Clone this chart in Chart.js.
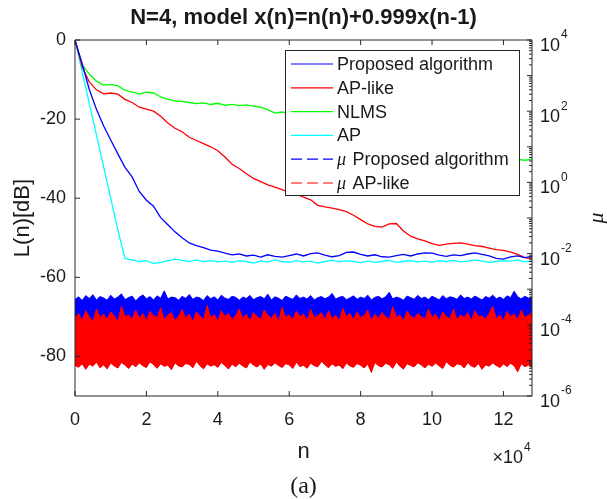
<!DOCTYPE html>
<html>
<head>
<meta charset="utf-8">
<script src="https://cdn.jsdelivr.net/npm/chart.js@4.4.0/dist/chart.umd.min.js"></script>
<style>
html, body { margin: 0; padding: 0; background: #fff; }
canvas { display: block; }
</style>
</head>
<body>
<canvas id="learningCurves" width="607" height="499"></canvas>
<script>
// sample index n, in units of 1e4
var n = [0,0.2,0.4,0.6,0.8,1,1.2,1.4,1.6,1.8,
         2,2.2,2.4,2.6,2.8,3,3.2,3.4,3.6,3.8,
         4,4.2,4.4,4.6,4.8,5,5.2,5.4,5.6,5.8,
         6,6.2,6.4,6.6,6.8,7,7.2,7.4,7.6,7.8,
         8,8.2,8.4,8.6,8.8,9,9.2,9.4,9.6,9.8,
         10,10.2,10.4,10.6,10.8,11,11.2,11.4,11.6,11.8,
         12,12.2,12.4,12.6,12.8];

// L(n) in dB
var proposed = [0,-6,-12.5,-17.5,-21.7,-25.3,-28.8,-32.2,-34.6,-38.3,
                -40.5,-42,-44.9,-46.7,-48.5,-50,-51.3,-52,-52.5,-53.1,
                -53.4,-53.9,-54.3,-54.1,-54.6,-54.4,-54.9,-54.3,-54.7,-54.9,
                -54.5,-54.1,-54.6,-54,-53.8,-54.4,-54.8,-54.5,-53.7,-53.6,
                -54.2,-54.6,-54.3,-54.8,-54.9,-54.5,-54.2,-54.6,-54.1,-53.8,
                -53.9,-54.4,-54.7,-54.3,-54.5,-54.1,-53.8,-54.2,-54.6,-55.2,
                -55.4,-54.8,-54.6,-55,-54.7];
var apLike = [0,-6.8,-10.6,-12.6,-13.6,-13.4,-13.7,-15,-15.8,-17,
              -17.5,-18,-19.3,-21,-22.3,-23.2,-24.6,-25.4,-26.2,-27,
              -28,-29.6,-31.4,-32.5,-33.8,-35,-35.8,-36.6,-37.2,-37.8,
              -38.5,-39,-39.7,-40.4,-41.8,-42.2,-42.5,-42.9,-43.4,-44.3,
              -45.4,-46.5,-47.1,-47.3,-46.5,-46.4,-48.3,-49.6,-50.3,-50.8,
              -51.5,-51.9,-51.6,-51.4,-51.3,-51.6,-52,-52.2,-52.6,-53,
              -53.2,-53.6,-54.2,-55,-55.3];
var nlms = [0,-6.2,-8.6,-10.4,-11.4,-11.2,-11.6,-12.7,-13.2,-13.6,
            -13.2,-13.4,-14.4,-15,-15.4,-15.5,-15.8,-16.1,-15.9,-16.3,
            -16,-16.5,-16.3,-16.6,-16.4,-16.7,-17,-17.6,-18.5,-18.2,
            -18.6,-19,-19.3,-19.8,-20.2,-20.5,-21,-21.4,-21.8,-22.1,
            -22.6,-23,-23.3,-23.8,-24.2,-24.5,-25,-25.3,-25.7,-26,
            -26.4,-26.7,-27,-27.4,-27.6,-28,-28.3,-28.6,-28.9,-29.3,
            -29.6,-29.8,-30.2,-30.4,-30.2];
var ap = [0,-8,-16,-24,-32,-40,-48,-55.2,-55.6,-56,
          -55.8,-56.5,-56.2,-55.8,-55.4,-55.7,-56,-55.6,-56,-55.8,
          -56.1,-55.9,-56.2,-55.8,-56,-56.4,-55.9,-56.1,-55.6,-56,
          -56.2,-55.8,-56.1,-55.9,-56.4,-56,-55.7,-56.1,-55.8,-56,
          -56.3,-55.9,-56.2,-56,-55.7,-56.2,-56,-55.8,-56.1,-55.9,
          -56.2,-55.8,-56,-55.7,-56.1,-55.9,-55.6,-55.9,-56.2,-56,
          -55.8,-55.9,-55.6,-56.1,-55.8];

// step size mu, sampled every 0.1e4
var muN = [0,0.1,0.2,0.3,0.4,0.5,0.6,0.7,0.8,0.9,
           1,1.1,1.2,1.3,1.4,1.5,1.6,1.7,1.8,1.9,
           2,2.1,2.2,2.3,2.4,2.5,2.6,2.7,2.8,2.9,
           3,3.1,3.2,3.3,3.4,3.5,3.6,3.7,3.8,3.9,
           4,4.1,4.2,4.3,4.4,4.5,4.6,4.7,4.8,4.9,
           5,5.1,5.2,5.3,5.4,5.5,5.6,5.7,5.8,5.9,
           6,6.1,6.2,6.3,6.4,6.5,6.6,6.7,6.8,6.9,
           7,7.1,7.2,7.3,7.4,7.5,7.6,7.7,7.8,7.9,
           8,8.1,8.2,8.3,8.4,8.5,8.6,8.7,8.8,8.9,
           9,9.1,9.2,9.3,9.4,9.5,9.6,9.7,9.8,9.9,
           10,10.1,10.2,10.3,10.4,10.5,10.6,10.7,10.8,10.9,
           11,11.1,11.2,11.3,11.4,11.5,11.6,11.7,11.8,11.9,
           12,12.1,12.2,12.3,12.4,12.5,12.6,12.7,12.8];
// upper edge of mu for the proposed algorithm (x1e-4)
var muPropTop = [5.2,6.1,4.8,6.6,5.5,7.0,5.0,6.2,5.7,4.9,6.8,5.3,6.0,7.4,5.1,5.8,6.4,4.7,5.9,6.9,
                 5.4,6.2,5.0,6.5,5.6,9.0,5.3,6.0,5.8,4.9,6.3,5.5,7.1,5.2,6.0,5.7,4.8,6.6,5.4,6.1,
                 5.0,6.8,5.6,5.2,6.3,5.9,4.9,6.0,5.5,6.7,5.1,5.8,6.2,5.4,7.2,5.0,6.1,5.6,4.8,6.4,
                 5.7,5.2,6.9,5.5,6.0,5.3,6.6,5.0,5.8,6.2,5.4,6.0,7.6,5.3,5.9,6.3,5.1,5.7,6.5,5.2,
                 6.0,5.5,6.8,5.0,5.9,6.3,5.4,6.1,8.2,5.3,6.0,5.6,4.9,6.4,5.8,5.2,6.7,5.5,6.0,5.1,
                 6.3,5.7,5.0,6.6,5.4,6.1,5.8,5.2,6.9,5.5,6.0,5.3,6.4,5.7,5.0,6.2,5.6,6.8,5.4,6.0,
                 5.2,6.5,5.8,8.8,6.1,5.4,6.3,5.6,6.0];
// upper edge of mu for AP-like (x1e-4)
var muApTop = [1.5,2.1,1.3,2.5,1.7,1.2,2.8,1.6,2.0,1.4,2.3,1.8,1.2,3.3,1.7,1.9,1.4,2.6,1.5,2.1,
               1.3,2.4,1.8,1.6,3.0,1.4,1.9,2.2,1.3,1.7,2.7,1.5,2.0,1.2,2.3,1.8,1.4,3.5,1.6,1.9,
               1.3,2.5,1.7,2.1,1.4,1.8,2.8,1.5,2.0,1.3,2.2,1.7,1.4,2.6,1.9,1.5,2.1,1.2,3.1,1.6,
               1.9,1.4,2.4,1.7,2.0,1.3,2.7,1.6,1.8,2.2,1.4,2.5,1.5,1.9,1.3,2.9,1.7,2.1,1.4,2.3,
               1.6,1.8,2.6,1.3,2.0,1.5,2.2,1.7,1.4,3.2,1.6,1.9,1.3,2.4,1.8,1.5,2.1,1.7,1.4,2.7,
               1.6,2.0,1.3,2.3,1.7,1.5,2.8,1.4,1.9,1.6,2.2,1.3,2.5,1.7,1.8,1.4,2.1,3.3,1.5,1.9,
               1.3,2.4,1.7,2.0,1.4,2.6,1.6,1.9,2.3];
// lower edge of mu for AP-like (x1e-6)
var muApBottom = [7.2,6.4,8.1,5.6,7.8,6.9,9.0,6.2,7.5,5.8,8.4,7.0,6.1,8.8,7.4,5.9,7.9,6.6,8.5,7.1,
                  6.3,9.2,7.6,6.0,8.0,6.8,7.4,5.5,8.6,7.0,6.5,8.2,7.7,6.2,9.4,7.1,5.8,8.0,6.9,7.5,
                  6.4,8.7,7.2,5.7,7.9,6.6,8.3,7.0,6.1,9.1,7.4,6.5,8.0,5.6,7.7,6.9,8.6,7.2,6.3,8.1,
                  7.5,5.9,8.9,6.7,7.3,6.0,8.4,7.1,6.6,9.3,7.6,6.2,8.0,6.8,7.4,5.8,8.5,7.0,6.4,8.2,
                  7.3,6.1,7.9,4.6,8.8,7.1,6.5,8.3,7.5,6.0,9.0,6.9,5.7,8.1,7.2,6.6,8.6,7.4,6.2,7.8,
                  6.8,8.4,7.0,5.9,9.2,7.3,6.5,8.0,7.6,6.1,8.7,7.0,6.4,8.2,5.6,7.5,6.9,8.5,7.2,6.3,
                  7.9,6.7,8.3,7.0,4.8,8.1,6.6,7.4,6.2];

var legendLabels = ['Proposed algorithm', 'AP-like', 'NLMS', 'AP', 'Proposed algorithm', 'AP-like'];
var legendColors = ['#0000ff', '#ff0000', '#00ff00', '#00ffff', '#0000ff', '#ff0000'];
var legendIsMu = [false, false, false, false, true, true];
var muDecades = [4, 2, 0, -2, -4, -6];

var SANS = '"Liberation Sans", Arial, sans-serif';
var SERIF = '"Liberation Serif", "Times New Roman", serif';
var INK = '#1a1a1a';

function pts(xs, ys, k) {
    var out = [];
    for (var i = 0; i < xs.length; i++) {
        out.push({x: xs[i], y: ys[i] * k});
    }
    return out;
}

function line(label, data, color, axis, width) {
    return {
        label: label,
        data: data,
        borderColor: color,
        backgroundColor: color,
        borderWidth: width,
        pointRadius: 0,
        fill: false,
        yAxisID: axis
    };
}

// axes box, inward ticks, log labels, titles and the legend, matlab style
var matlabLook = {
    id: 'matlabLook',
    afterDraw: function(chart) {
        var ctx = chart.ctx;
        var a = chart.chartArea;
        var sx = chart.scales.x, sy = chart.scales.y, sm = chart.scales.y2;
        ctx.save();

        ctx.strokeStyle = '#262626';
        ctx.lineWidth = 1;
        ctx.beginPath();
        ctx.rect(a.left, a.top, a.right - a.left, a.bottom - a.top);
        sx.ticks.forEach(function(t) {
            var px = sx.getPixelForValue(t.value);
            ctx.moveTo(px, a.bottom); ctx.lineTo(px, a.bottom - 5);
            ctx.moveTo(px, a.top); ctx.lineTo(px, a.top + 5);
        });
        sy.ticks.forEach(function(t) {
            var py = sy.getPixelForValue(t.value);
            ctx.moveTo(a.left, py); ctx.lineTo(a.left + 5, py);
        });
        for (var d = -6; d <= 4; d++) {
            for (var m = 1; m < 10; m++) {
                if (d === 4 && m > 1) break;
                var py = sm.getPixelForValue(m * Math.pow(10, d));
                ctx.moveTo(a.right, py);
                ctx.lineTo(a.right - (m === 1 ? 5 : 3), py);
            }
        }
        ctx.stroke();

        ctx.fillStyle = INK;
        ctx.textBaseline = 'middle';

        // right axis labels 10^k
        muDecades.forEach(function(k) {
            var py = sm.getPixelForValue(Math.pow(10, k));
            ctx.font = '18px ' + SANS;
            ctx.textAlign = 'left';
            ctx.fillText('10', a.right + 8, py + 6);
            var w = ctx.measureText('10').width;
            ctx.font = '12px ' + SANS;
            ctx.fillText(String(k), a.right + 9 + w, py - 5);
        });

        // title
        ctx.font = 'bold 22px ' + SANS;
        ctx.textAlign = 'center';
        ctx.fillText('N=4, model x(n)=n(n)+0.999x(n-1)', (a.left + a.right) / 2, 18);

        // x label, exponent and caption
        ctx.font = '22px ' + SANS;
        ctx.fillText('n', (a.left + a.right) / 2, 452);
        ctx.font = '18px ' + SANS;
        ctx.textAlign = 'right';
        ctx.fillText('\u00d710', a.right - 9, 458);
        ctx.font = '12px ' + SANS;
        ctx.textAlign = 'left';
        ctx.fillText('4', a.right - 8, 448);
        ctx.font = '24px ' + SERIF;
        ctx.textAlign = 'center';
        ctx.fillText('(a)', (a.left + a.right) / 2, 487);

        // y labels
        ctx.save();
        ctx.translate(23, (a.top + a.bottom) / 2);
        ctx.rotate(-Math.PI / 2);
        ctx.font = '22px ' + SANS;
        ctx.fillText('L(n)[dB]', 0, 0);
        ctx.restore();
        ctx.save();
        ctx.translate(597, (a.top + a.bottom) / 2);
        ctx.rotate(-Math.PI / 2);
        ctx.font = 'italic 22px ' + SERIF;
        ctx.fillText('\u03bc', 0, 0);
        ctx.restore();

        // legend
        var lx = 285, ly = 50, lw = 234, lh = 145;
        ctx.fillStyle = '#fff';
        ctx.fillRect(lx, ly, lw, lh);
        ctx.strokeStyle = '#262626';
        ctx.lineWidth = 1;
        ctx.strokeRect(lx + 0.5, ly + 0.5, lw, lh);
        legendLabels.forEach(function(lab, i) {
            var ry = ly + 14 + i * 23.8;
            ctx.strokeStyle = legendColors[i];
            ctx.lineWidth = 1.2;
            ctx.setLineDash(legendIsMu[i] ? [11, 5] : []);
            ctx.beginPath();
            ctx.moveTo(lx + 6, ry);
            ctx.lineTo(lx + 48, ry);
            ctx.stroke();
            ctx.setLineDash([]);
            ctx.fillStyle = INK;
            ctx.textAlign = 'left';
            var tx = lx + 52;
            if (legendIsMu[i]) {
                ctx.font = 'italic 18px ' + SERIF;
                ctx.fillText('\u03bc', tx, ry + 1);
                tx += ctx.measureText('\u03bc ').width + 2;
            }
            ctx.font = '18px ' + SANS;
            ctx.fillText(lab, tx, ry + 1);
        });

        ctx.restore();
    }
};

var ctx = document.getElementById('learningCurves');

var chart = new Chart(ctx, {
    type: 'line',
    data: {
        datasets: [
            line('Proposed algorithm', pts(n, proposed, 1), '#0000ff', 'y', 1.3),
            line('AP-like', pts(n, apLike, 1), '#ff0000', 'y', 1.3),
            line('NLMS', pts(n, nlms, 1), '#00ff00', 'y', 1.3),
            line('AP', pts(n, ap, 1), '#00ffff', 'y', 1.3),
            Object.assign(line('mu AP-like', pts(muN, muApTop, 1e-4), '#ff0000', 'y2', 1), {fill: '+1'}),
            line('mu AP-like low', pts(muN, muApBottom, 1e-6), '#ff0000', 'y2', 1),
            Object.assign(line('mu Proposed algorithm', pts(muN, muPropTop, 1e-4), '#0000ff', 'y2', 1), {fill: 5})
        ]
    },
    options: {
        responsive: false,
        animation: false,
        layout: { padding: { top: 40, left: 0, right: 0, bottom: 0 } },
        elements: { line: { tension: 0 } },
        plugins: {
            legend: { display: false },
            tooltip: { enabled: false }
        },
        scales: {
            x: {
                type: 'linear', position: 'bottom', min: 0, max: 12.8,
                grid: { display: false, drawTicks: false },
                border: { display: false },
                ticks: { stepSize: 2, includeBounds: false, padding: 13, color: INK, maxRotation: 0,
                         font: { family: SANS, size: 18 } },
                afterFit: function(s) { s.height = 103; }
            },
            y: {
                type: 'linear', position: 'left', min: -90, max: 0,
                grid: { display: false, drawTicks: false },
                border: { display: false },
                ticks: { stepSize: 20, includeBounds: false, padding: 9, color: INK,
                         font: { family: SANS, size: 18 } },
                afterFit: function(s) { s.width = 75; }
            },
            y2: {
                type: 'logarithmic', position: 'right', min: 1e-6, max: 1e4,
                grid: { display: false, drawTicks: false },
                border: { display: false },
                ticks: { display: false },
                afterFit: function(s) { s.width = 75; }
            }
        }
    },
    plugins: [matlabLook]
});
</script>
</body>
</html>
